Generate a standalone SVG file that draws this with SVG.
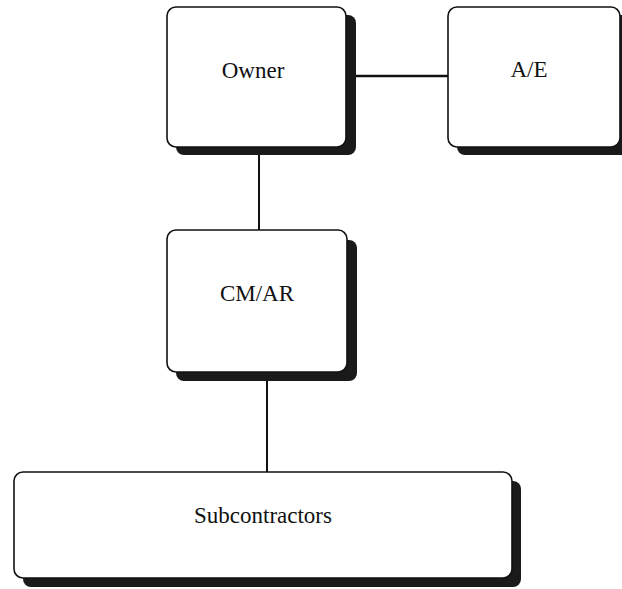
<svg xmlns="http://www.w3.org/2000/svg" width="622" height="589" viewBox="0 0 622 589">
<style>
.box{fill:#fff;stroke:#111;stroke-width:1.6}
.shadow{fill:#1a1a1a}
.lbl{font-family:"Liberation Serif","Times New Roman",serif;font-size:23px;fill:#111;text-anchor:middle}
.conn{stroke:#111;fill:none}
</style>
<rect width="622" height="589" fill="#fff"/>
<g id="connectors">
<line class="conn" x1="355" y1="76" x2="448" y2="76" stroke-width="2.5"/>
<line class="conn" x1="259" y1="155" x2="259" y2="230" stroke-width="2"/>
<line class="conn" x1="267" y1="381" x2="267" y2="472" stroke-width="2"/>
</g>
<g id="owner">
<rect class="shadow" x="176" y="15" width="180" height="140" rx="8"/>
<rect class="box" x="167" y="7" width="179" height="140" rx="9"/>
<text class="lbl" x="253" y="78">Owner</text>
</g>
<g id="ae">
<rect class="shadow" x="457" y="15" width="175" height="140" rx="8"/>
<rect class="box" x="448" y="7" width="172" height="140" rx="9"/>
<text class="lbl" x="529" y="77">A/E</text>
</g>
<g id="cmar">
<rect class="shadow" x="176" y="240" width="181" height="141" rx="8"/>
<rect class="box" x="167" y="230" width="180" height="142" rx="9"/>
<text class="lbl" x="257" y="301">CM/AR</text>
</g>
<g id="subcontractors">
<rect class="shadow" x="23" y="481" width="498" height="106" rx="8"/>
<rect class="box" x="14" y="472" width="498" height="106" rx="9"/>
<text class="lbl" x="263" y="523">Subcontractors</text>
</g>
</svg>
